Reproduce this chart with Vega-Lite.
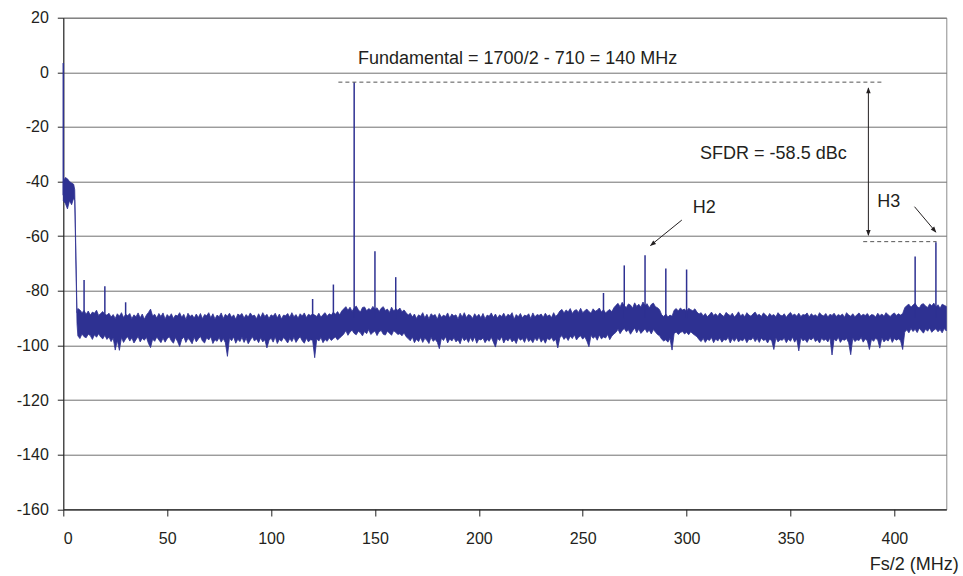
{
  "$schema": "https://vega.github.io/schema/vega-lite/v6.json",
  "width": 883,
  "height": 491.6,
  "autosize": {"type": "none"},
  "padding": {"left": 63.3, "top": 17.7, "right": 16.7, "bottom": 66.7},
  "background": "white",
  "config": {
    "font": "Liberation Sans",
    "view": {"stroke": "#8c8c8c", "strokeWidth": 1},
    "axis": {"labelFont": "Liberation Sans", "titleFont": "Liberation Sans", "labelColor": "#231f20", "titleColor": "#231f20", "domainColor": "#222222", "tickColor": "#222222", "domainWidth": 1, "tickWidth": 1}
  },
  "datasets": {
    "noise": [
      {"f":0,"v":-47,"h":-40},{"f":1,"v":-48,"h":-38.5},{"f":2,"v":-50,"h":-39},{"f":3,"v":-47,"h":-40},{"f":4,"v":-48.5,"h":-40.5},{"f":5,"v":-46,"h":-41},{"f":5.5,"v":-47,"h":-43},{"f":6.6,"v":-92,"h":-88},
      {"f":7,"v":-96.5,"h":-86.5},{"f":8,"v":-97.5,"h":-87},{"f":9,"v":-95.8,"h":-88},{"f":10,"v":-96.8,"h":-87.2},{"f":11,"v":-97.2,"h":-88.6},{"f":12,"v":-95.9,"h":-87.4},{"f":13,"v":-96.4,"h":-88.9},{"f":14,"v":-97.8,"h":-87.8},{"f":15,"v":-96.1,"h":-88.2},{"f":16,"v":-97,"h":-87.1},{"f":17,"v":-95.7,"h":-89},{"f":18,"v":-96.9,"h":-88.3},{"f":19,"v":-97.6,"h":-87.6},{"f":20,"v":-96.3,"h":-88.7},
      {"f":21,"v":-97.8,"h":-88.9},{"f":22,"v":-96.9,"h":-88.2},{"f":23,"v":-98.6,"h":-89.6},{"f":24,"v":-97.3,"h":-88.7},{"f":25,"v":-101.7,"h":-90.1},{"f":26,"v":-98.2,"h":-88.4},{"f":27,"v":-101.8,"h":-89.3},{"f":28,"v":-97.1,"h":-88},{"f":29,"v":-98.9,"h":-89.8},{"f":30,"v":-97.6,"h":-88.6},
      {"f":31,"v":-96.8,"h":-89.1},{"f":32,"v":-98.4,"h":-88.3},{"f":33,"v":-97.2,"h":-90.2},{"f":34,"v":-99.1,"h":-88.8},{"f":35,"v":-97.9,"h":-89.5},{"f":36,"v":-96.7,"h":-88.1},{"f":37,"v":-98.7,"h":-89.9},{"f":38,"v":-97.4,"h":-88.5},{"f":39,"v":-98.1,"h":-90.4},{"f":40,"v":-97,"h":-88.9},
      {"f":41,"v":-99.3,"h":-87.9},{"f":42,"v":-100.8,"h":-86.7},{"f":43,"v":-97.7,"h":-89.2},{"f":44,"v":-98.5,"h":-88.6},{"f":45,"v":-96.9,"h":-90},{"f":46,"v":-98,"h":-88.3},{"f":47,"v":-99,"h":-89.4},{"f":48,"v":-97.3,"h":-88.1},{"f":49,"v":-98.8,"h":-90.3},{"f":50,"v":-97.5,"h":-88.7},
      {"f":51,"v":-96.8,"h":-89.6},{"f":52,"v":-98.3,"h":-88.4},{"f":53,"v":-99.2,"h":-90.1},{"f":54,"v":-97.1,"h":-88.9},{"f":55,"v":-98.6,"h":-89.2},{"f":56,"v":-100.4,"h":-88},{"f":57,"v":-97.8,"h":-89.7},{"f":58,"v":-96.9,"h":-88.6},{"f":59,"v":-98.9,"h":-90.5},{"f":60,"v":-97.4,"h":-88.2},
      {"f":61,"v":-98.2,"h":-89.4},{"f":62,"v":-99.4,"h":-88.8},{"f":63,"v":-97,"h":-90},{"f":64,"v":-98.7,"h":-88.5},{"f":65,"v":-97.6,"h":-89.8},{"f":66,"v":-96.7,"h":-88.3},{"f":67,"v":-98.4,"h":-90.2},{"f":68,"v":-99.1,"h":-88.7},{"f":69,"v":-97.2,"h":-89.1},{"f":70,"v":-98,"h":-88},
      {"f":71,"v":-96.8,"h":-89.9},{"f":72,"v":-99.3,"h":-88.4},{"f":73,"v":-97.9,"h":-90.3},{"f":74,"v":-98.5,"h":-88.9},{"f":75,"v":-97.1,"h":-89.5},{"f":76,"v":-98.8,"h":-88.1},{"f":77,"v":-97.5,"h":-90.1},{"f":78,"v":-99,"h":-88.6},{"f":79,"v":-104,"h":-89.3},{"f":80,"v":-97.3,"h":-88.2},
      {"f":81,"v":-98.3,"h":-89.7},{"f":82,"v":-96.9,"h":-88.8},{"f":83,"v":-99.2,"h":-90.4},{"f":84,"v":-97.7,"h":-88.5},{"f":85,"v":-98.6,"h":-89},{"f":86,"v":-97,"h":-88.3},{"f":87,"v":-98.9,"h":-90},{"f":88,"v":-97.4,"h":-88.7},{"f":89,"v":-99.4,"h":-89.6},{"f":90,"v":-98.1,"h":-88.1},
      {"f":91,"v":-96.8,"h":-89.2},{"f":92,"v":-98.4,"h":-88.9},{"f":93,"v":-97.6,"h":-90.2},{"f":94,"v":-99,"h":-88.4},{"f":95,"v":-97.2,"h":-89.8},{"f":96,"v":-98.7,"h":-88},{"f":97,"v":-97.9,"h":-89.4},{"f":98,"v":-100.9,"h":-88.6},{"f":99,"v":-98.2,"h":-90.1},{"f":100,"v":-97.3,"h":-88.8},
      {"f":101,"v":-98.8,"h":-89.3},{"f":102,"v":-96.9,"h":-88.2},{"f":103,"v":-99.3,"h":-89.9},{"f":104,"v":-97.8,"h":-88.5},{"f":105,"v":-98.5,"h":-90.3},{"f":106,"v":-97.1,"h":-88.9},{"f":107,"v":-98,"h":-89.1},{"f":108,"v":-99.1,"h":-88.3},{"f":109,"v":-97.5,"h":-89.7},{"f":110,"v":-98.6,"h":-88},
      {"f":111,"v":-97,"h":-89.5},{"f":112,"v":-98.9,"h":-88.7},{"f":113,"v":-97.7,"h":-90},{"f":114,"v":-96.8,"h":-88.4},{"f":115,"v":-98.3,"h":-89.2},{"f":116,"v":-99.2,"h":-88.1},{"f":117,"v":-97.4,"h":-89.8},{"f":118,"v":-98.7,"h":-88.6},{"f":119,"v":-97.9,"h":-89},{"f":120,"v":-98.1,"h":-88.5},
      {"f":121,"v":-104.5,"h":-88.9},{"f":122,"v":-97.6,"h":-89.4},{"f":123,"v":-98.4,"h":-88.2},{"f":124,"v":-97.1,"h":-89.7},{"f":125,"v":-99,"h":-88.7},{"f":126,"v":-97.8,"h":-88},{"f":127,"v":-98.5,"h":-89.3},{"f":128,"v":-97.2,"h":-88.4},{"f":129,"v":-98.2,"h":-88.9},{"f":130,"v":-97.5,"h":-87.8},
      {"f":131,"v":-96.9,"h":-88.6},{"f":132,"v":-98,"h":-87.6},{"f":133,"v":-97.3,"h":-88.8},{"f":134,"v":-96.6,"h":-87.4},{"f":135,"v":-95.8,"h":-86.6},{"f":136,"v":-94.6,"h":-85.8},{"f":137,"v":-96.3,"h":-87.1},{"f":138,"v":-95.1,"h":-86},{"f":139,"v":-94.4,"h":-87.5},{"f":140,"v":-95.6,"h":-86.3},
      {"f":141,"v":-96.1,"h":-85.6},{"f":142,"v":-94.8,"h":-86.9},{"f":143,"v":-95.4,"h":-87.8},{"f":144,"v":-96.5,"h":-86.1},{"f":145,"v":-94.9,"h":-85.9},{"f":146,"v":-95.7,"h":-87.3},{"f":147,"v":-94.2,"h":-86.5},{"f":148,"v":-96,"h":-87},{"f":149,"v":-95.3,"h":-85.7},{"f":150,"v":-94.7,"h":-86.8},
      {"f":151,"v":-96.4,"h":-86.2},{"f":152,"v":-95,"h":-87.6},{"f":153,"v":-94.5,"h":-86.4},{"f":154,"v":-95.9,"h":-85.8},{"f":155,"v":-96.2,"h":-87.2},{"f":156,"v":-94.8,"h":-86.7},{"f":157,"v":-95.5,"h":-87.9},{"f":158,"v":-96.3,"h":-86},{"f":159,"v":-94.6,"h":-87.4},{"f":160,"v":-95.2,"h":-86.6},
      {"f":161,"v":-96,"h":-87.1},{"f":162,"v":-95.7,"h":-86.3},{"f":163,"v":-96.5,"h":-87.7},{"f":164,"v":-95.4,"h":-87},{"f":165,"v":-96.8,"h":-88},{"f":166,"v":-97.5,"h":-88.9},{"f":167,"v":-98.3,"h":-88.2},{"f":168,"v":-96.9,"h":-89.6},{"f":169,"v":-99,"h":-88.5},{"f":170,"v":-97.7,"h":-90.1},
      {"f":171,"v":-98.6,"h":-88.8},{"f":172,"v":-97.1,"h":-89.3},{"f":173,"v":-98.9,"h":-88},{"f":174,"v":-97.4,"h":-89.9},{"f":175,"v":-98.1,"h":-88.6},{"f":176,"v":-99.3,"h":-90.2},{"f":177,"v":-97,"h":-88.4},{"f":178,"v":-98.5,"h":-89.1},{"f":179,"v":-97.8,"h":-88.7},{"f":180,"v":-98.8,"h":-90.4},
      {"f":181,"v":-101.2,"h":-88.3},{"f":182,"v":-97.3,"h":-89.7},{"f":183,"v":-98.2,"h":-88.9},{"f":184,"v":-96.8,"h":-89.4},{"f":185,"v":-99.1,"h":-88.1},{"f":186,"v":-97.6,"h":-90},{"f":187,"v":-98.4,"h":-88.5},{"f":188,"v":-97.2,"h":-89.2},{"f":189,"v":-98.7,"h":-88.8},{"f":190,"v":-97.9,"h":-90.3},
      {"f":191,"v":-99.4,"h":-88.2},{"f":192,"v":-97,"h":-89.6},{"f":193,"v":-98.3,"h":-88},{"f":194,"v":-97.5,"h":-89.8},{"f":195,"v":-98.9,"h":-88.7},{"f":196,"v":-97.1,"h":-89},{"f":197,"v":-98.6,"h":-90.1},{"f":198,"v":-96.9,"h":-88.4},{"f":199,"v":-99.2,"h":-89.5},{"f":200,"v":-97.7,"h":-88.6},
      {"f":201,"v":-98,"h":-89.9},{"f":202,"v":-97.3,"h":-88.3},{"f":203,"v":-99,"h":-90.2},{"f":204,"v":-97.8,"h":-88.9},{"f":205,"v":-98.5,"h":-89.3},{"f":206,"v":-97,"h":-88.1},{"f":207,"v":-98.8,"h":-89.7},{"f":208,"v":-100.6,"h":-88.5},{"f":209,"v":-97.4,"h":-90},{"f":210,"v":-98.2,"h":-88.8},
      {"f":211,"v":-96.8,"h":-89.4},{"f":212,"v":-99.1,"h":-88.2},{"f":213,"v":-97.6,"h":-89.8},{"f":214,"v":-98.4,"h":-88.6},{"f":215,"v":-97.2,"h":-89.1},{"f":216,"v":-98.7,"h":-88},{"f":217,"v":-97.9,"h":-90.4},{"f":218,"v":-99.3,"h":-88.7},{"f":219,"v":-97.1,"h":-89.5},{"f":220,"v":-98.1,"h":-88.3},
      {"f":221,"v":-97.5,"h":-89.9},{"f":222,"v":-98.9,"h":-88.9},{"f":223,"v":-97,"h":-89.2},{"f":224,"v":-98.6,"h":-88.4},{"f":225,"v":-97.8,"h":-90.1},{"f":226,"v":-99,"h":-88.1},{"f":227,"v":-97.3,"h":-89.6},{"f":228,"v":-98.3,"h":-88.7},{"f":229,"v":-96.9,"h":-89},{"f":230,"v":-98.8,"h":-88.5},
      {"f":231,"v":-97.6,"h":-89.7},{"f":232,"v":-99.2,"h":-88.2},{"f":233,"v":-97.4,"h":-89.3},{"f":234,"v":-98,"h":-88.8},{"f":235,"v":-97.1,"h":-89.8},{"f":236,"v":-98.5,"h":-88},{"f":237,"v":-97.7,"h":-89.4},{"f":238,"v":-100.9,"h":-88.6},{"f":239,"v":-97.2,"h":-87.4},{"f":240,"v":-96.4,"h":-86.8},
      {"f":241,"v":-97.8,"h":-88.1},{"f":242,"v":-96.9,"h":-87},{"f":243,"v":-98.2,"h":-87.7},{"f":244,"v":-96.6,"h":-86.5},{"f":245,"v":-97.5,"h":-88.3},{"f":246,"v":-96.1,"h":-87.2},{"f":247,"v":-98,"h":-86.9},{"f":248,"v":-97,"h":-87.9},{"f":249,"v":-96.5,"h":-86.4},{"f":250,"v":-97.7,"h":-88},
      {"f":251,"v":-96.8,"h":-87.3},{"f":252,"v":-98.4,"h":-86.7},{"f":253,"v":-100.5,"h":-87.6},{"f":254,"v":-96.3,"h":-88.2},{"f":255,"v":-97.4,"h":-86.6},{"f":256,"v":-96.7,"h":-87.5},{"f":257,"v":-98.1,"h":-87.1},{"f":258,"v":-96.2,"h":-86.3},{"f":259,"v":-97.6,"h":-87.8},{"f":260,"v":-96.9,"h":-86.9},
      {"f":261,"v":-97.3,"h":-88.1},{"f":262,"v":-96,"h":-87.4},{"f":263,"v":-97.9,"h":-86.8},{"f":264,"v":-96.6,"h":-87.7},{"f":265,"v":-95.8,"h":-86.2},{"f":266,"v":-95.2,"h":-85.3},{"f":267,"v":-94.1,"h":-84.6},{"f":268,"v":-95.7,"h":-85.9},{"f":269,"v":-94.5,"h":-84.2},{"f":270,"v":-93.8,"h":-85.5},
      {"f":271,"v":-95,"h":-86.1},{"f":272,"v":-94.3,"h":-84.8},{"f":273,"v":-95.9,"h":-85.2},{"f":274,"v":-94.7,"h":-86.4},{"f":275,"v":-93.6,"h":-84.4},{"f":276,"v":-95.4,"h":-85.7},{"f":277,"v":-94,"h":-84.9},{"f":278,"v":-95.6,"h":-86},{"f":279,"v":-94.8,"h":-84.1},{"f":280,"v":-93.9,"h":-85.4},
      {"f":281,"v":-95.3,"h":-84.7},{"f":282,"v":-94.4,"h":-86.3},{"f":283,"v":-95.8,"h":-85},{"f":284,"v":-94.2,"h":-84.5},{"f":285,"v":-95.1,"h":-85.8},{"f":286,"v":-96,"h":-86.2},{"f":287,"v":-96.5,"h":-86.9},{"f":288,"v":-97.7,"h":-88.8},{"f":289,"v":-98.4,"h":-89.4},{"f":290,"v":-97.9,"h":-88.5},
      {"f":291,"v":-98.8,"h":-89.6},{"f":292,"v":-97.5,"h":-88.9},{"f":293,"v":-101.7,"h":-89.3},{"f":294,"v":-95.6,"h":-87.1},{"f":295,"v":-95.1,"h":-86.5},{"f":296,"v":-96,"h":-87.4},{"f":297,"v":-95.3,"h":-86.3},{"f":298,"v":-94.9,"h":-87},{"f":299,"v":-95.8,"h":-86.7},{"f":300,"v":-95.2,"h":-87.5},
      {"f":301,"v":-96.1,"h":-86.4},{"f":302,"v":-95,"h":-86.9},{"f":303,"v":-95.7,"h":-87.3},{"f":304,"v":-96.3,"h":-86.6},{"f":305,"v":-96.8,"h":-87.8},{"f":306,"v":-97.9,"h":-88.5},{"f":307,"v":-98.6,"h":-88},{"f":308,"v":-97.4,"h":-89.2},{"f":309,"v":-98.9,"h":-88.3},{"f":310,"v":-97.7,"h":-89.5},
      {"f":311,"v":-98.2,"h":-88.7},{"f":312,"v":-97.1,"h":-87.8},{"f":313,"v":-99,"h":-89},{"f":314,"v":-97.6,"h":-88.4},{"f":315,"v":-98.4,"h":-89.3},{"f":316,"v":-97.3,"h":-88.1},{"f":317,"v":-98.8,"h":-88.9},{"f":318,"v":-97.8,"h":-89.4},{"f":319,"v":-98.1,"h":-87.9},{"f":320,"v":-97,"h":-88.6},
      {"f":321,"v":-99.1,"h":-89.1},{"f":322,"v":-97.5,"h":-88.2},{"f":323,"v":-98.5,"h":-89.6},{"f":324,"v":-97.2,"h":-88.8},{"f":325,"v":-98.7,"h":-87.7},{"f":326,"v":-97.9,"h":-89.2},{"f":327,"v":-98.3,"h":-88.5},{"f":328,"v":-97.4,"h":-89.5},{"f":329,"v":-99,"h":-88},{"f":330,"v":-97.7,"h":-88.9},
      {"f":331,"v":-98,"h":-89.3},{"f":332,"v":-97.1,"h":-88.4},{"f":333,"v":-98.6,"h":-87.8},{"f":334,"v":-97.5,"h":-89},{"f":335,"v":-98.9,"h":-88.6},{"f":336,"v":-97.3,"h":-89.4},{"f":337,"v":-98.2,"h":-88.1},{"f":338,"v":-97.8,"h":-88.8},{"f":339,"v":-99.1,"h":-89.6},{"f":340,"v":-97.6,"h":-88.3},
      {"f":341,"v":-98.4,"h":-89.1},{"f":342,"v":-101.5,"h":-88.7},{"f":343,"v":-97.2,"h":-89.5},{"f":344,"v":-98.7,"h":-88},{"f":345,"v":-97.9,"h":-88.9},{"f":346,"v":-98.1,"h":-89.2},{"f":347,"v":-97.4,"h":-88.4},{"f":348,"v":-99,"h":-89.7},{"f":349,"v":-97.7,"h":-88.6},{"f":350,"v":-98.5,"h":-87.9},
      {"f":351,"v":-97,"h":-89},{"f":352,"v":-98.8,"h":-88.5},{"f":353,"v":-97.6,"h":-89.3},{"f":354,"v":-102,"h":-88.2},{"f":355,"v":-97.3,"h":-89.4},{"f":356,"v":-98.3,"h":-88.7},{"f":357,"v":-97.8,"h":-88.9},{"f":358,"v":-98.9,"h":-88.1},{"f":359,"v":-97.5,"h":-89.6},{"f":360,"v":-98,"h":-88.4},
      {"f":361,"v":-97.1,"h":-89.1},{"f":362,"v":-98.6,"h":-88.8},{"f":363,"v":-97.9,"h":-89.5},{"f":364,"v":-99.1,"h":-88},{"f":365,"v":-97.4,"h":-88.9},{"f":366,"v":-98.2,"h":-89.2},{"f":367,"v":-97.7,"h":-88.3},{"f":368,"v":-98.7,"h":-89.6},{"f":369,"v":-97.2,"h":-88.6},{"f":370,"v":-103.5,"h":-89},
      {"f":371,"v":-97.6,"h":-88.2},{"f":372,"v":-98.4,"h":-89.4},{"f":373,"v":-97,"h":-88.7},{"f":374,"v":-98.9,"h":-89.1},{"f":375,"v":-97.8,"h":-88.5},{"f":376,"v":-98.1,"h":-89.7},{"f":377,"v":-97.5,"h":-88},{"f":378,"v":-99,"h":-88.9},{"f":379,"v":-103.4,"h":-89.3},{"f":380,"v":-97.3,"h":-88.4},
      {"f":381,"v":-98.6,"h":-89.5},{"f":382,"v":-97.9,"h":-88.8},{"f":383,"v":-98.2,"h":-88.1},{"f":384,"v":-97.1,"h":-89.2},{"f":385,"v":-98.8,"h":-88.6},{"f":386,"v":-97.6,"h":-89},{"f":387,"v":-98.3,"h":-88.3},{"f":388,"v":-101.5,"h":-89.4},{"f":389,"v":-97.7,"h":-88.7},{"f":390,"v":-98.5,"h":-88.9},
      {"f":391,"v":-97.4,"h":-89.6},{"f":392,"v":-98,"h":-88.2},{"f":393,"v":-101,"h":-89.1},{"f":394,"v":-97.2,"h":-88.5},{"f":395,"v":-98.7,"h":-89.3},{"f":396,"v":-97.8,"h":-88},{"f":397,"v":-98.4,"h":-88.8},{"f":398,"v":-97,"h":-89.4},{"f":399,"v":-98.9,"h":-88.6},{"f":400,"v":-97.5,"h":-88.1},
      {"f":401,"v":-98.1,"h":-89},{"f":402,"v":-97.6,"h":-88.4},{"f":403,"v":-98.3,"h":-88.9},{"f":404,"v":-101.5,"h":-88.3},{"f":405,"v":-95.1,"h":-86.2},{"f":406,"v":-94.3,"h":-85.4},{"f":407,"v":-95.4,"h":-84.9},{"f":408,"v":-93.8,"h":-86},{"f":409,"v":-94.9,"h":-85.2},{"f":410,"v":-94.1,"h":-84.6},
      {"f":411,"v":-95.3,"h":-85.8},{"f":412,"v":-93.7,"h":-86.3},{"f":413,"v":-94.6,"h":-85},{"f":414,"v":-95.5,"h":-84.7},{"f":415,"v":-94,"h":-85.6},{"f":416,"v":-94.8,"h":-86.1},{"f":417,"v":-93.6,"h":-84.8},{"f":418,"v":-95.2,"h":-85.5},{"f":419,"v":-94.4,"h":-84.5},{"f":420,"v":-93.9,"h":-85.9},
      {"f":421,"v":-95,"h":-85.1},{"f":422,"v":-94.2,"h":-86.4},{"f":423,"v":-95.4,"h":-84.9},{"f":424,"v":-93.8,"h":-85.3},{"f":425,"v":-94.7,"h":-85.7}
    ],
    "spurs": [
      {"f":10,"v":-76},{"f":20,"v":-78.3},{"f":30,"v":-84.2},{"f":120,"v":-83},{"f":130,"v":-77.7},{"f":140,"v":-3.6},{"f":150,"v":-65.5},{"f":160,"v":-75},
      {"f":260,"v":-80.8},{"f":270,"v":-70.7},{"f":280,"v":-67},{"f":290,"v":-71.8},{"f":300,"v":-72.2},{"f":410,"v":-67.4},{"f":420,"v":-62.2}
    ],
    "dashes": [
      {"f":132.4,"f2":394,"v":-3.6},
      {"f":385,"f2":420.3,"v":-62}
    ],
    "arrows": [
      {"f":387.5,"v":-5.8,"f2":387.5,"v2":-59.6},
      {"f":297.7,"v":-54.1,"f2":282.6,"v2":-63.4},
      {"f":409.7,"v":-49.2,"f2":420,"v2":-58.5}
    ],
    "labels": [
      {"f":141.85,"v":2.94,"t":"Fundamental = 1700/2 - 710 = 140 MHz"},
      {"f":306.5,"v":-31.8,"t":"SFDR = -58.5 dBc"},
      {"f":303.0,"v":-51.4,"t":"H2"},
      {"f":391.8,"v":-49.2,"t":"H3"}
    ]
  },
  "encoding": {
    "x": {
      "field": "f", "type": "quantitative",
      "scale": {"domain": [0, 425], "nice": false, "zero": false},
      "axis": {"values": [0, 50, 100, 150, 200, 250, 300, 350, 400], "title": "Fs/2 (MHz)", "grid": false, "tickSize": 6.7, "labelPadding": 14, "labelFontSize": 16, "titleFontSize": 18, "titleFontWeight": "normal", "titleAnchor": "end", "titleAlign": "right", "titleBaseline": "alphabetic", "titleX": 895, "titleY": 60.5}
    },
    "y": {
      "field": "v", "type": "quantitative",
      "scale": {"domain": [-160, 20], "nice": false, "zero": false},
      "axis": {"values": [-160, -140, -120, -100, -80, -60, -40, -20, 0, 20], "labelExpr": "'' + datum.value", "title": null, "grid": true, "gridColor": "#707070", "gridOpacity": 1, "gridWidth": 1, "tickSize": 6, "labelPadding": 9, "labelFontSize": 16}
    }
  },
  "layer": [
    {
      "data": {"name": "noise"},
      "mark": {"type": "area", "color": "#2e3192", "opacity": 1, "stroke": "#2e3192", "strokeWidth": 0.8},
      "encoding": {"y2": {"field": "h"}}
    },
    {
      "data": {"name": "spurs"},
      "mark": {"type": "rule", "color": "#2e3192", "strokeWidth": 1.5},
      "encoding": {"y2": {"datum": -90}}
    },
    {
      "data": {"values": [{"f": 0, "v": 3.4}]},
      "mark": {"type": "rule", "color": "#2e3192", "strokeWidth": 1.5},
      "encoding": {"y2": {"datum": -45}}
    },
    {
      "data": {"name": "dashes"},
      "mark": {"type": "rule", "color": "#555555", "strokeWidth": 1, "strokeDash": [4, 3]},
      "encoding": {"x2": {"field": "f2"}}
    },
    {
      "data": {"name": "arrows"},
      "mark": {"type": "rule", "color": "#231f20", "strokeWidth": 1},
      "encoding": {"x2": {"field": "f2"}, "y2": {"field": "v2"}}
    },
    {
      "data": {"values": [{"f": 387.5, "v": -5.5}]},
      "mark": {"type": "point", "filled": true, "opacity": 1, "color": "#231f20", "shape": "M0,0L-0.45,1.2L0.45,1.2Z", "size": 100, "angle": 0}
    },
    {
      "data": {"values": [{"f": 387.5, "v": -59.9}]},
      "mark": {"type": "point", "filled": true, "opacity": 1, "color": "#231f20", "shape": "M0,0L-0.45,1.2L0.45,1.2Z", "size": 100, "angle": 180}
    },
    {
      "data": {"values": [{"f": 282.4, "v": -63.6}]},
      "mark": {"type": "point", "filled": true, "opacity": 1, "color": "#231f20", "shape": "M0,0L-0.45,1.2L0.45,1.2Z", "size": 100, "angle": 230.6}
    },
    {
      "data": {"values": [{"f": 420.2, "v": -58.7}]},
      "mark": {"type": "point", "filled": true, "opacity": 1, "color": "#231f20", "shape": "M0,0L-0.45,1.2L0.45,1.2Z", "size": 100, "angle": 140.3}
    },
    {
      "data": {"name": "labels"},
      "mark": {"type": "text", "align": "left", "baseline": "alphabetic", "fontSize": 18, "font": "Liberation Sans", "color": "#231f20"},
      "encoding": {"text": {"field": "t"}}
    }
  ]
}
